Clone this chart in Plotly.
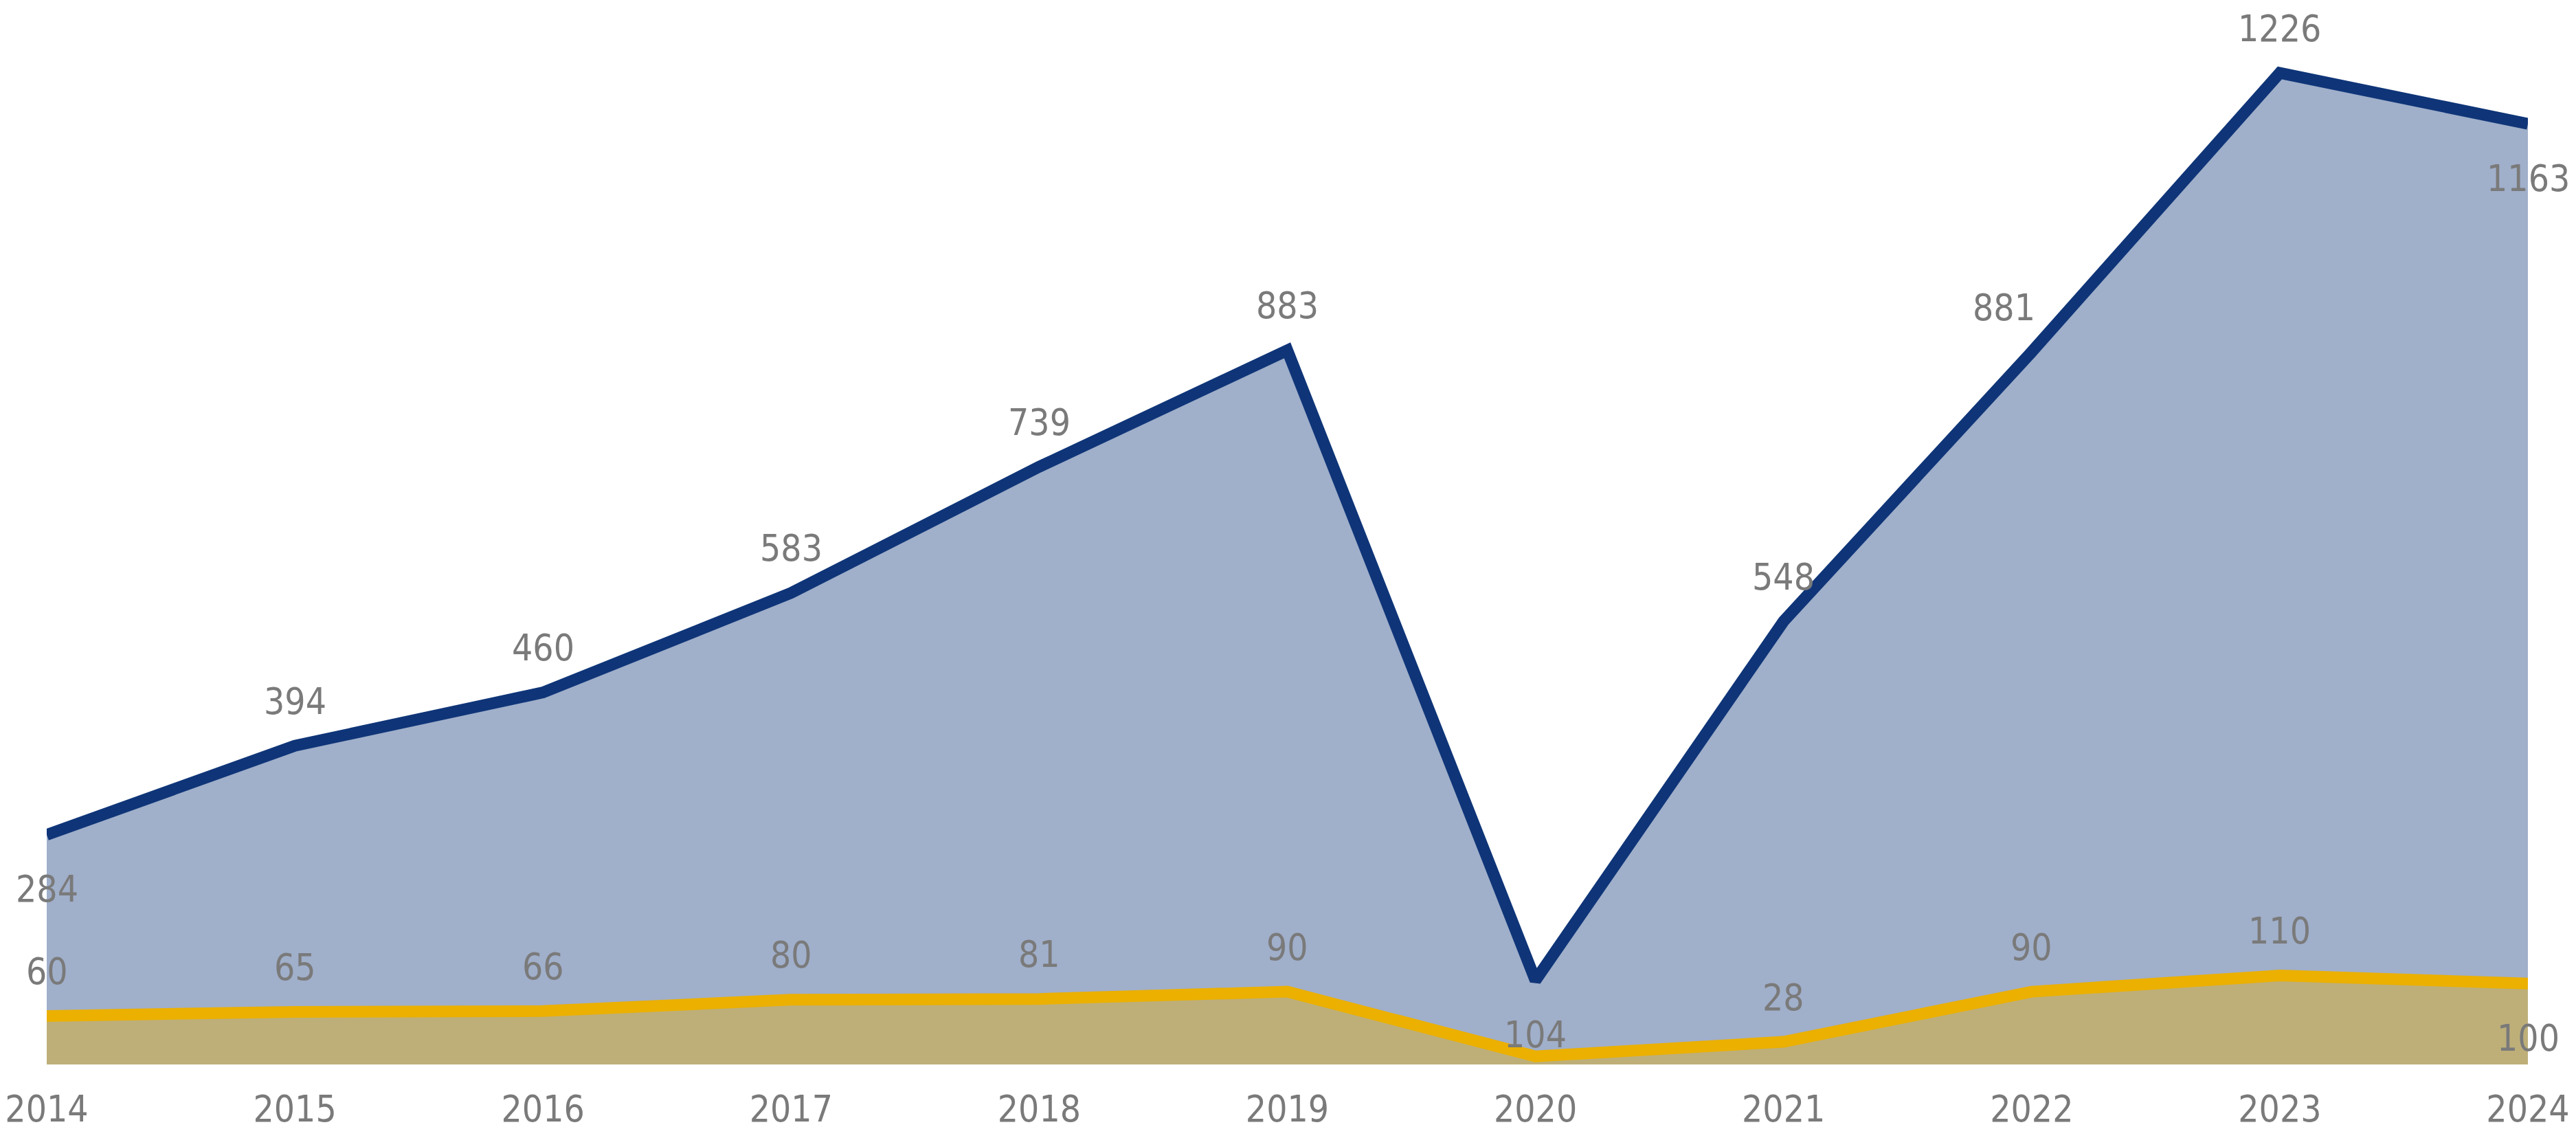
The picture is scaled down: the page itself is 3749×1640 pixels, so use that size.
import plotly.graph_objects as go

years = [2014, 2015, 2016, 2017, 2018, 2019, 2020, 2021, 2022, 2023, 2024]
blue_vals = [284, 394, 460, 583, 739, 883, 104, 548, 881, 1226, 1163]
gold_vals = [60, 65, 66, 80, 81, 90, 10, 28, 90, 110, 100]
# label placement: 1 = above, -1 = below, 0 = hidden
blue_pos = [-1, 1, 1, 1, 1, 1, -1, 1, 1, 1, -1]
gold_pos = [1, 1, 1, 1, 1, 1, 0, 1, 1, 1, -1]
blue_xshift = [0, 0, 0, 0, 0, 0, 0, 0, -40, 0, 0]

BLUE = "rgb(15,53,120)"
GOLD = "rgb(235,176,0)"
FONT = "Noto Sans Condensed, DejaVu Sans Condensed, Liberation Sans Narrow, Noto Sans, sans-serif"
GREY = "#7a7a7a"
font_kw = dict(family=FONT, size=53, color=GREY)

fig = go.Figure()
fig.add_trace(go.Scatter(x=years, y=blue_vals, mode="lines", fill="tozeroy",
                         line=dict(color=BLUE, width=17),
                         fillcolor="rgba(15,53,120,0.395)", hoverinfo="skip"))
fig.add_trace(go.Scatter(x=years, y=gold_vals, mode="lines", fill="tozeroy",
                         line=dict(color=GOLD, width=17),
                         fillcolor="rgba(235,176,0,0.4)", hoverinfo="skip"))

anns = []
for vals, pos, xs in ((blue_vals, blue_pos, blue_xshift), (gold_vals, gold_pos, [0]*11)):
    for x, v, p, s in zip(years, vals, pos, xs):
        if p == 0:
            continue
        anns.append(dict(x=x, y=v, text=str(v), showarrow=False,
                         xanchor="center", yanchor="middle",
                         yshift=65 if p > 0 else -79, xshift=s,
                         font=font_kw))

fig.update_layout(
    width=3749, height=1640,
    margin=dict(l=60, r=78, t=11, b=99),
    paper_bgcolor="white", plot_bgcolor="white",
    showlegend=False,
    annotations=anns,
    xaxis=dict(range=[2014, 2024], tickmode="array", tickvals=years,
               ticktext=[str(y) for y in years], showgrid=False, zeroline=False,
               showline=False, ticks="", ticklabelstandoff=29, automargin=False,
               ticklabeloverflow="allow",
               tickfont=font_kw),
    yaxis=dict(range=[0, 1300], visible=False, showgrid=False, zeroline=False,
               automargin=False),
)

fig.write_html("out.html")
